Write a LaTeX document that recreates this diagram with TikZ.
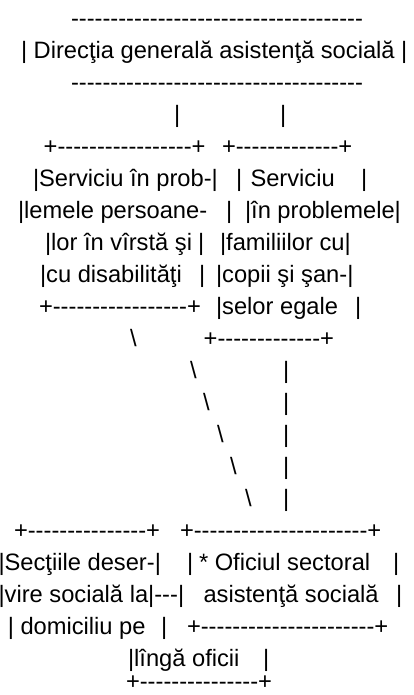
\documentclass[tikz,border=0pt]{standalone}
\usepackage{fontspec}
\usepackage{tikz}
\usetikzlibrary{positioning}
\newfontfamily\asciifont{Liberation Sans}
\tikzstyle{line} = [anchor=base west, inner sep=0pt, outer sep=0pt, text depth=0pt, font=\asciifont\fontsize{23.7}{32}\selectfont]
\newcommand{\dashrun}[1]{\foreach \d in {1,...,#1}{-}}
\begin{document}
\begin{tikzpicture}[x=1pt, y=-1pt]
                                \useasboundingbox (0,0) rectangle (414,695);
                                % head office
                                \node (1) [line] at (71,26.3) {\dashrun{37}};
                                \node (2) [line] at (21,58.3) {| Direcţia generală asistenţă socială |};
                                \node (3) [line] at (71,90.3) {\dashrun{37}};
                                \node (4a) [line] at (174,122.3) {|};
                                \node (4b) [line] at (280,122.3) {|};
                                % two services
                                \node (5a) [line] at (43.7,154.3) {+\dashrun{17}+};
                                \node (5b) [line] at (222,154.3) {+\dashrun{13}+};
                                \node (6a) [line] at (33,186.3) {|Serviciu în prob-|};
                                \node (6b) [line] at (236,186.3) {|};
                                \node (6c) [line] at (250.5,186.3) {Serviciu};
                                \node (6d) [line] at (361,186.3) {|};
                                \node (7a) [line] at (18,218.3) {|lemele persoane-};
                                \node (7b) [line] at (226,218.3) {|};
                                \node (7c) [line] at (245,218.3) {|în problemele|};
                                \node (8a) [line] at (45,250.3) {|lor în vîrstă şi};
                                \node (8b) [line] at (198,250.3) {|};
                                \node (8c) [line] at (220,250.3) {|familiilor cu|};
                                \node (9a) [line] at (40,282.3) {|cu disabilităţi};
                                \node (9b) [line] at (199,282.3) {|};
                                \node (9c) [line] at (216,282.3) {|copii şi şan-|};
                                \node (10a) [line] at (39,314.3) {+\dashrun{17}+};
                                \node (10b) [line] at (216,314.3) {|selor egale};
                                \node (10c) [line] at (355,314.3) {|};
                                \node (11a) [line] at (130,346.3) {\textbackslash};
                                \node (11b) [line] at (203.7,346.3) {+\dashrun{13}+};
                                % links down
                                \node (12a) [line] at (190,378.3) {\textbackslash};
                                \node (12b) [line] at (283,378.3) {|};
                                \node (13a) [line] at (203,410.3) {\textbackslash};
                                \node (13b) [line] at (283,410.3) {|};
                                \node (14a) [line] at (217,442.3) {\textbackslash};
                                \node (14b) [line] at (283,442.3) {|};
                                \node (15a) [line] at (230,474.3) {\textbackslash};
                                \node (15b) [line] at (283,474.3) {|};
                                \node (16a) [line] at (245,506.3) {\textbackslash};
                                \node (16b) [line] at (283,506.3) {|};
                                % sections and office
                                \node (17a) [line] at (14,538.3) {+\dashrun{15}+};
                                \node (17b) [line] at (180,538.3) {+\dashrun{22}+};
                                \node (18a) [line] at (-1.5,570.3) {|Secţiile deser-|};
                                \node (18b) [line] at (187,570.3) {|};
                                \node (18c) [line] at (199,570.3) {* Oficiul sectoral};
                                \node (18d) [line] at (393,570.3) {|};
                                \node (19a) [line] at (-1.5,602.3) {|vire socială la|---|};
                                \node (19b) [line] at (203.5,602.3) {asistenţă socială};
                                \node (19c) [line] at (396,602.3) {|};
                                \node (20a) [line] at (8,634.3) {|};
                                \node (20b) [line] at (20.5,634.3) {domiciliu pe};
                                \node (20c) [line] at (161,634.3) {|};
                                \node (20d) [line] at (187,634.3) {+\dashrun{22}+};
                                \node (21a) [line] at (128,666.3) {|lîngă oficii};
                                \node (21b) [line] at (263,666.3) {|};
                                \node (22) [line] at (126,689.5) {+\dashrun{15}+};
                            \end{tikzpicture}
\end{document}
